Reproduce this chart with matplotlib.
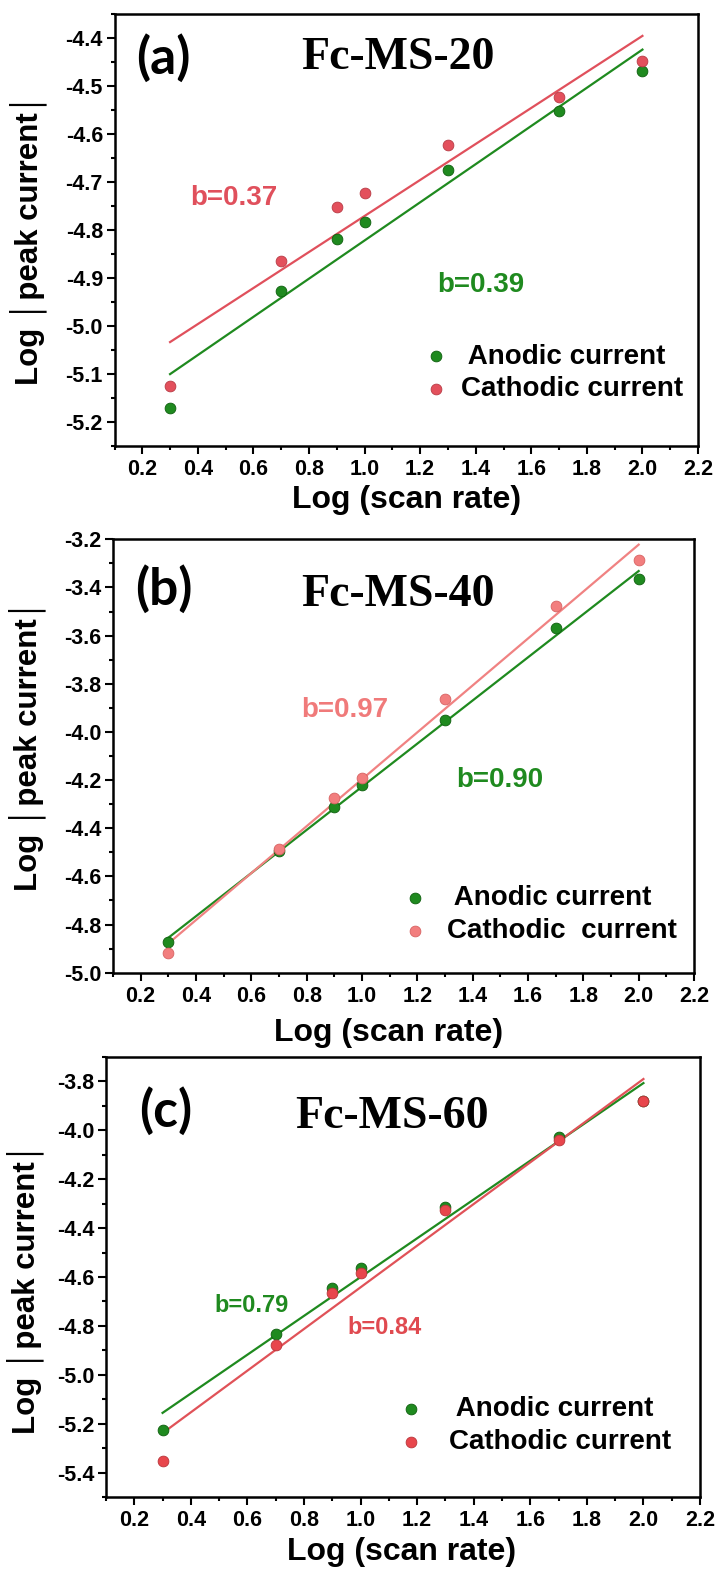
import numpy as np
import matplotlib
matplotlib.use("Agg")
import matplotlib.pyplot as plt
from matplotlib.ticker import MultipleLocator, FixedLocator

plt.rcParams['axes.unicode_minus'] = False
plt.rcParams['font.family'] = ['Liberation Sans', 'DejaVu Sans']

# ---------------- data ----------------
log_scan = [0.3, 0.7, 0.9, 1.0, 1.3, 1.7, 2.0]

a_anodic = [-5.171, -4.928, -4.818, -4.784, -4.674, -4.552, -4.468]
a_cathodic = [-5.124, -4.865, -4.752, -4.723, -4.623, -4.523, -4.448]
b_anodic = [-4.871, -4.495, -4.313, -4.222, -3.951, -3.570, -3.366]
b_cathodic = [-4.919, -4.487, -4.275, -4.190, -3.865, -3.477, -3.286]
c_anodic = [-5.226, -4.833, -4.646, -4.564, -4.312, -4.028, -3.880]
c_cathodic = [-5.352, -4.878, -4.666, -4.584, -4.328, -4.039, -3.882]

titles = ['Fc-MS-20', 'Fc-MS-40', 'Fc-MS-60']
panel_tags = ['(a)', '(b)', '(c)']
anodic_slope_text = ['b=0.39', 'b=0.90', 'b=0.79']
cathodic_slope_text = ['b=0.37', 'b=0.97', 'b=0.84']
anodic_labels = [' Anodic current', ' Anodic current', ' Anodic current']
cathodic_labels = ['Cathodic current', 'Cathodic  current', 'Cathodic current']
x_ticks = [0.2, 0.4, 0.6, 0.8, 1.0, 1.2, 1.4, 1.6, 1.8, 2.0, 2.2]
a_yticks = [-5.2, -5.1, -5.0, -4.9, -4.8, -4.7, -4.6, -4.5, -4.4]
b_yticks = [-5.0, -4.8, -4.6, -4.4, -4.2, -4.0, -3.8, -3.6, -3.4, -3.2]
c_yticks = [-5.4, -5.2, -5.0, -4.8, -4.6, -4.4, -4.2, -4.0, -3.8]

# ---------------- styles ----------------
W, H = 718, 1570
fig = plt.figure(figsize=(W / 100, H / 100), dpi=100)

GREEN = '#1f8a1f'
GREEN_EDGE = '#0d5e0d'
panels = [
    dict(rect=(114.5, 14, 698, 446), y_an=a_anodic, y_ca=a_cathodic, yticks=a_yticks,
         ylim=(-5.25, -4.35), yminor=0.05,
         red='#e3505c', red_edge='#b83a44', red_line='#e0505c', red_text='#e0505c',
         an_txt=(1.417, -4.914, 20), ca_txt=(0.528, -4.733, 20),
         leg=(0.527, 0.169, 0.42, 0.25), ylab=(-0.115, 0.479), xlab=(0.50, -0.090),
         title=(0.485, 0.898), tag=(0.084, 0.898)),
    dict(rect=(113, 539.3, 694, 972.7), y_an=b_anodic, y_ca=b_cathodic, yticks=b_yticks,
         ylim=(-5.0, -3.2), yminor=0.1,
         red='#f27e7e', red_edge='#d86262', red_line='#f08282', red_text='#f07a7a',
         an_txt=(1.499, -4.20, 20), ca_txt=(0.937, -3.909, 20),
         leg=(0.496, 0.1345, 0.64, 0.25), ylab=(-0.115, 0.525), xlab=(0.475, -0.105),
         title=(0.49, 0.872), tag=(0.088, 0.884)),
    dict(rect=(106, 1056.7, 700, 1497.3), y_an=c_anodic, y_ca=c_cathodic, yticks=c_yticks,
         ylim=(-5.5, -3.7), yminor=0.1,
         red='#e8464c', red_edge='#b8343a', red_line='#e05258', red_text='#e04a50',
         an_txt=(0.614, -4.716, 17), ca_txt=(1.086, -4.805, 17),
         leg=(0.490, 0.162, 0.87, 0.25), ylab=(-0.105, 0.476), xlab=(0.498, -0.091),
         title=(0.481, 0.864), tag=(0.101, 0.875)),
]

for i, p in enumerate(panels):
    l, t, r, b = p['rect']
    ax = fig.add_axes([l / W, 1 - b / H, (r - l) / W, (b - t) / H])

    x = np.array(log_scan)
    ya = np.array(p['y_an'])
    yc = np.array(p['y_ca'])

    # linear fits
    ka, ba = np.polyfit(x, ya, 1)
    kc, bc = np.polyfit(x, yc, 1)
    xs = np.array([x.min(), x.max()])
    ax.plot(xs, ka * xs + ba, color=GREEN, lw=1.6, zorder=2)
    ax.plot(xs, kc * xs + bc, color=p['red_line'], lw=1.6, zorder=2)

    sg = ax.scatter(x, ya, s=60, color=GREEN, edgecolors=GREEN_EDGE, linewidths=0.6, zorder=3)
    sr = ax.scatter(x, yc, s=60, color=p['red'], edgecolors=p['red_edge'], linewidths=0.6, zorder=4)

    ax.set_xlim(0.1, 2.2)
    ax.set_ylim(*p['ylim'])
    ax.xaxis.set_major_locator(FixedLocator(x_ticks))
    ax.xaxis.set_minor_locator(MultipleLocator(0.1))
    ax.yaxis.set_major_locator(FixedLocator(p['yticks']))
    ax.yaxis.set_minor_locator(MultipleLocator(p['yminor']))
    ax.set_xticklabels([f'{v:.1f}' for v in x_ticks])
    ax.set_yticklabels([f'{v:.1f}' for v in p['yticks']])

    for s in ax.spines.values():
        s.set_linewidth(1.8)
    ax.tick_params(which='both', direction='out', top=False, right=False, width=1.5)
    ax.tick_params(which='major', length=5.8)
    ax.tick_params(which='minor', length=3.0)
    ax.tick_params(axis='x', which='major', pad=3.5, labelsize=15.5)
    ax.tick_params(axis='y', which='major', pad=2.5, labelsize=15.5)
    for lab in ax.get_xticklabels() + ax.get_yticklabels():
        lab.set_fontweight('bold')

    ax.set_xlabel('Log (scan rate)', fontsize=23, fontweight='bold')
    ax.xaxis.set_label_coords(*p['xlab'])
    ax.set_ylabel('Log \u2502peak current\u2502', fontsize=22.5, fontweight='bold')
    ax.yaxis.set_label_coords(*p['ylab'])

    ax.text(*p['title'], titles[i], transform=ax.transAxes, ha='center', va='center',
            fontsize=33, fontweight='bold', family=['Liberation Serif', 'DejaVu Serif'])
    ax.text(*p['tag'], panel_tags[i], transform=ax.transAxes, ha='center', va='center',
            fontsize=37, fontweight='bold', family=['Lato', 'DejaVu Sans'])

    xa, yaa, fa = p['an_txt']
    ax.text(xa, yaa, anodic_slope_text[i], ha='center', va='center', fontsize=fa,
            fontweight='bold', color=GREEN)
    xc, ycc, fc = p['ca_txt']
    ax.text(xc, ycc, cathodic_slope_text[i], ha='center', va='center', fontsize=fc,
            fontweight='bold', color=p['red_text'])

    lx, ly, tp, ls = p['leg']
    ax.legend([sg, sr], [anodic_labels[i], cathodic_labels[i]], loc='center left',
              bbox_to_anchor=(lx, ly), frameon=False, handlelength=1.0,
              handletextpad=tp, labelspacing=ls, borderpad=0, borderaxespad=0,
              scatterpoints=1, prop=dict(size=20, weight='bold'))

fig.savefig('out.png', dpi=100)
